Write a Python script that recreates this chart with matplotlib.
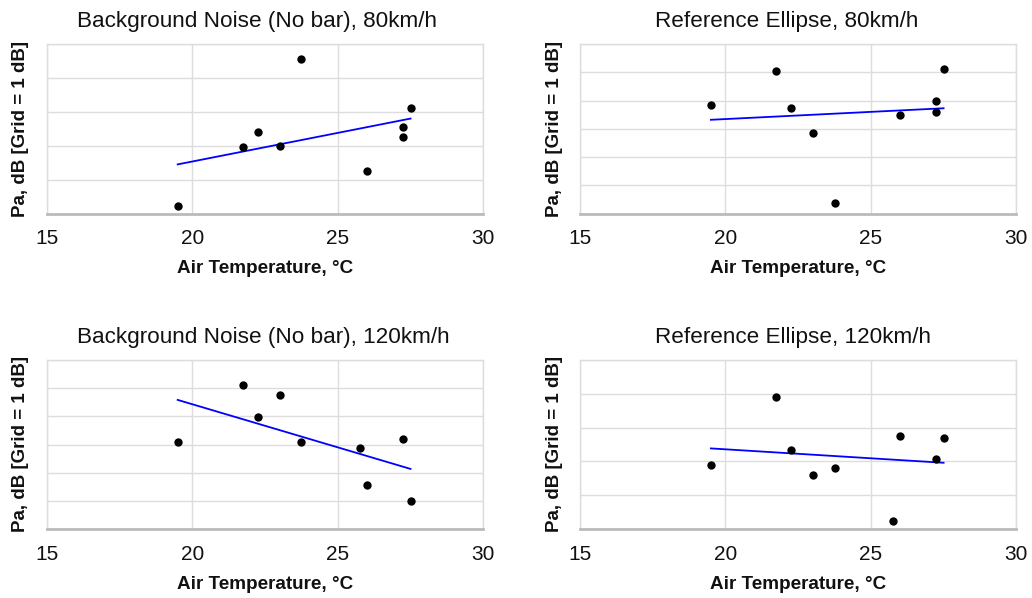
import numpy as np
import matplotlib
matplotlib.use("Agg")
import matplotlib.pyplot as plt

plt.rcParams['font.family'] = ['Liberation Sans', 'DejaVu Sans']

titles = ["Background Noise (No bar), 80km/h", "Reference Ellipse, 80km/h",
          "Background Noise (No bar), 120km/h", "Reference Ellipse, 120km/h"]

temp_80 = [19.5, 21.75, 22.25, 23.0, 23.75, 26.0, 27.25, 27.25, 27.5]
temp_120 = [19.5, 21.75, 22.25, 23.0, 23.75, 25.75, 26.0, 27.25, 27.5]

# Relative Pa levels in dB (offset from bottom of each chart)
bg_80 = [0.22, 1.96, 2.40, 2.00, 4.55, 1.25, 2.54, 2.25, 3.12]
ref_80 = [3.83, 5.06, 3.73, 2.87, 0.39, 3.49, 3.99, 3.58, 5.12]
bg_120 = [3.08, 5.09, 3.96, 4.75, 3.08, 2.88, 1.58, 3.20, 0.99]
ref_120 = [1.90, 3.91, 2.34, 1.61, 1.80, 0.24, 2.74, 2.06, 2.68]

y_spans = [5, 6, 6, 5]
x_ticks = [15, 20, 25, 30]

datasets = [(temp_80, bg_80), (temp_80, ref_80), (temp_120, bg_120), (temp_120, ref_120)]

W, H = 1032, 598
fig = plt.figure(figsize=(W / 100, H / 100), dpi=100)

boxes = [(46.7, 44, 483.3, 213.7), (580, 44, 1016.3, 213.7),
         (46.7, 359.7, 483.3, 529.3), (580, 359.7, 1016.3, 529.3)]
title_x = [77.3, 655.3, 77.3, 655.3]

for (x0, y0, x1, y1), tx, title, (xs, ys), span in zip(boxes, title_x, titles, datasets, y_spans):
    ax = fig.add_axes([x0 / W, 1 - y1 / H, (x1 - x0) / W, (y1 - y0) / H])
    xs = np.array(xs); ys = np.array(ys)
    ax.set_xlim(15, 30)
    ax.set_ylim(0, span)
    ax.set_xticks(x_ticks)
    ax.set_yticks(np.arange(0, span + 1, 1))
    ax.set_yticklabels([])
    ax.grid(True, color='#dddddd', linewidth=1.0)
    ax.set_axisbelow(True)
    for s in ['top', 'right', 'left']:
        ax.spines[s].set_color('#dddddd')
        ax.spines[s].set_linewidth(1.0)
    ax.spines['bottom'].set_color('#bbbbbb')
    ax.spines['bottom'].set_linewidth(2.0)
    ax.tick_params(axis='y', length=0)
    ax.tick_params(axis='x', length=0, labelsize=15, pad=11, colors='#111111')
    m, b = np.polyfit(xs, ys, 1)
    xl = np.array([xs.min(), xs.max()])
    ax.plot(xl, m * xl + b, color='#0000ff', linewidth=1.3, zorder=2)
    ax.scatter(xs, ys, s=36, color='black', zorder=3, clip_on=False, linewidths=0)
    fig.text(tx / W, 1 - (y0 - 22.5) / H, title, fontsize=16.2, color='#111111',
             ha='left', va='center')
    ax.set_xlabel("Air Temperature, °C", fontsize=13.6, fontweight='bold', labelpad=9, color='#111111')
    ax.set_ylabel("Pa, dB [Grid = 1 dB]", fontsize=13.5, fontweight='bold', labelpad=9, color='#111111')

fig.savefig("out.png", dpi=100, facecolor='white')
